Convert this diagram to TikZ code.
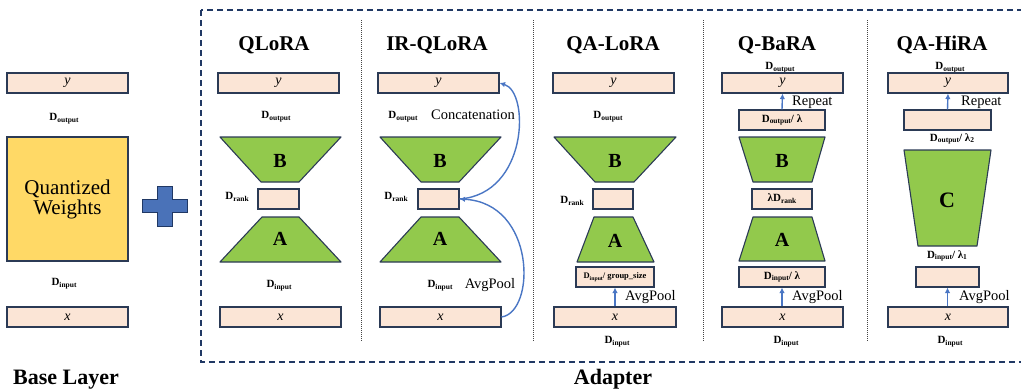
\documentclass[tikz,border=0pt]{standalone}
\usepackage{fontspec}
\setmainfont{Liberation Serif}
\usetikzlibrary{arrows.meta}

\definecolor{peach}{HTML}{FBE5D6}
\definecolor{boxline}{HTML}{2B3A55}
\definecolor{leaf}{HTML}{92C94C}
\definecolor{gold}{HTML}{FFD966}
\definecolor{plusblue}{HTML}{4A72B8}
\definecolor{arrowblue}{HTML}{4A76C4}
\definecolor{navy}{HTML}{203864}
\definecolor{sepgray}{HTML}{444444}

\newcommand\fs[1]{\fontsize{#1}{#1}\selectfont}
\newcommand\Dlab[1]{\textbf{D}\raisebox{-0.35ex}{\fontsize{0.68em}{0.68em}\selectfont\textbf{#1}}}

\tikzset{
  vec/.style={draw=boxline, fill=peach, line width=1.1pt, inner sep=0pt, minimum height=20pt, font=\fs{14}\itshape},
  mat/.style={draw=boxline, fill=leaf, line width=1.1pt, line join=round},
  dimlab/.style={inner sep=0pt, font=\fs{11}},
  ttl/.style={inner sep=0pt, font=\fs{21}\bfseries},
  opl/.style={inner sep=0pt, font=\fs{14.5}},
  letter/.style={inner sep=0pt, font=\fs{20}\bfseries},
  arr/.style={draw=arrowblue, line width=1.4pt, -{Latex[length=5.5pt,width=5.5pt]}},
  sep/.style={draw=sepgray, line width=0.9pt, dash pattern=on 1pt off 1pt},
}

\begin{document}
\begin{tikzpicture}[x=1pt, y=-1pt]
\useasboundingbox (0,0) rectangle (1021,391);

% ---------- base layer ----------
\node[vec, minimum width=121pt] (by) at (67.5,83) {y};
\node[dimlab] (bdo) at (64,119) {\Dlab{output}};
\node[draw=boxline, fill=gold, line width=1.1pt, minimum width=121pt, minimum height=124pt,
      align=center, font=\fs{21}] (bw) at (67.5,199) {Quantized\\[-1pt]Weights};
\node[dimlab] (bdi) at (64,284) {\Dlab{input}};
\node[vec, minimum width=121pt] (bx) at (67.5,317) {x};
\node[ttl, font=\fs{22}\bfseries] (blab) at (66,380) {Base Layer};

% plus sign
\draw[fill=plusblue, draw=navy, line width=1pt]
  (157,186) -- (172,186) -- (172,199) -- (187,199) -- (187,212) -- (172,212)
  -- (172,226) -- (157,226) -- (157,212) -- (142,212) -- (142,199) -- (157,199) -- cycle;

% ---------- adapter frame ----------
\draw[navy, line width=1.4pt, dash pattern=on 6pt off 4pt] (201,10) rectangle (1030,362);
\node[ttl, font=\fs{22}\bfseries] (alab) at (613,379) {Adapter};
\foreach \sx in {361,533,703,867} \draw[sep] (\sx,20) -- (\sx,342);

% ---------- QLoRA ----------
\node[ttl] (t1) at (274,45) {QLoRA};
\node[vec, minimum width=121pt] (y1) at (278.5,83) {y};
\node[dimlab] (do1) at (276,117) {\Dlab{output}};
\draw[mat] (220,137) -- (341,137) -- (299,182) -- (261,182) -- cycle;
\node[letter] (B1) at (280,161) {B};
\node[dimlab] (dr1) at (237,197) {\Dlab{rank}};
\node[vec, minimum width=41pt] (r1) at (278.5,199) {};
\draw[mat] (262,217) -- (299,217) -- (341,262) -- (220,262) -- cycle;
\node[letter] (A1) at (280,239) {A};
\node[dimlab] (di1) at (279,286) {\Dlab{input}};
\node[vec, minimum width=121pt] (x1) at (280.5,317) {x};

% ---------- IR-QLoRA ----------
\node[ttl] (t2) at (437,45) {IR-QLoRA};
\node[vec, minimum width=121pt] (y2) at (438.5,83) {y};
\node[dimlab] (do2) at (403,117) {\Dlab{output}};
\node[opl] (cat2) at (473,115) {Concatenation};
\draw[mat] (380,137) -- (501,137) -- (459,182) -- (421,182) -- cycle;
\node[letter] (B2) at (440,161) {B};
\node[dimlab] (dr2) at (396,197) {\Dlab{rank}};
\node[vec, minimum width=41pt] (r2) at (438.5,199) {};
\draw[mat] (421,217) -- (459,217) -- (501,262) -- (380,262) -- cycle;
\node[letter] (A2) at (440,239) {A};
\node[dimlab] (di2) at (440,286) {\Dlab{input}};
\node[opl] (ap2) at (490,285) {AvgPool};
\node[vec, minimum width=121pt] (x2) at (440.5,317) {x};
\draw[arr] (x2.east) .. controls (536,312) and (536,203) .. (r2.east);
\draw[arr] (r2.east) .. controls (528,194) and (530,92) .. (y2.east);

% ---------- QA-LoRA ----------
\node[ttl] (t3) at (613,45) {QA-LoRA};
\node[vec, minimum width=121pt] (y3) at (613.5,83) {y};
\node[dimlab] (do3) at (608,117) {\Dlab{output}};
\draw[mat] (554,137) -- (676,137) -- (634,182) -- (595,182) -- cycle;
\node[letter] (B3) at (615,161) {B};
\node[dimlab] (dr3) at (572,201) {\Dlab{rank}};
\node[vec, minimum width=40pt] (r3) at (613,199) {};
\draw[mat] (594,217) -- (633,217) -- (654,262) -- (577,262) -- cycle;
\node[letter] (A3) at (615,241) {A};
\node[vec, minimum width=78pt, font=\fs{8.5}] (g3) at (615,277) {\Dlab{input}\textbf{/ group\_size}};
\node[vec, minimum width=122pt] (x3) at (615,317) {x};
\draw[arr] (x3.north) -- (g3.south);
\node[opl, anchor=west] (ap3) at (625,297) {AvgPool};
\node[dimlab] (di3) at (617,342) {\Dlab{input}};

% ---------- Q-BaRA ----------
\node[ttl] (t4) at (777,45) {Q-BaRA};
\node[dimlab] (do4) at (780,68) {\Dlab{output}};
\node[vec, minimum width=121pt] (y4) at (782.5,83) {y};
\node[vec, minimum width=86pt, font=\fs{11}] (q4) at (782,120) {\Dlab{output}\textbf{/ λ}};
\draw[arr] (q4.north) -- (y4.south);
\node[opl, anchor=west] (rp4) at (792,102) {Repeat};
\draw[mat] (739,137) -- (825,137) -- (812,182) -- (753,182) -- cycle;
\node[letter] (B4) at (782,161) {B};
\node[vec, minimum width=60pt, font=\fs{11}] (r4) at (782,199) {\textbf{λ}\Dlab{rank}};
\draw[mat] (753,217) -- (812,217) -- (825,261) -- (739,261) -- cycle;
\node[letter] (A4) at (782,240) {A};
\node[vec, minimum width=86pt, font=\fs{11}] (p4) at (782,277) {\Dlab{input}\textbf{/ λ}};
\node[vec, minimum width=121pt] (x4) at (782.5,317) {x};
\draw[arr] (x4.north -| p4.south) -- (p4.south);
\node[opl, anchor=west] (ap4) at (792,297) {AvgPool};
\node[dimlab] (di4) at (786,342) {\Dlab{input}};

% ---------- QA-HiRA ----------
\node[ttl] (t5) at (942,45) {QA-HiRA};
\node[dimlab] (do5) at (950,68) {\Dlab{output}};
\node[vec, minimum width=120pt] (y5) at (948,83) {y};
\node[vec, minimum width=87pt] (q5) at (947.5,120) {};
\draw[arr] (q5.north) -- (y5.south);
\node[opl, anchor=west] (rp5) at (961,102) {Repeat};
\node[dimlab] (qo5) at (952,139) {\Dlab{output}\textbf{/ λ\raisebox{-0.35ex}{\fontsize{0.68em}{0.68em}\selectfont 2}}};
\draw[mat] (904,150) -- (991,150) -- (977,246) -- (918,246) -- cycle;
\node[letter, font=\fs{22}\bfseries] (C5) at (947,200) {C};
\node[dimlab] (pi5) at (947,256) {\Dlab{input}\textbf{/ λ\raisebox{-0.35ex}{\fontsize{0.68em}{0.68em}\selectfont 1}}};
\node[vec, minimum width=63pt] (p5) at (947.5,277) {};
\node[vec, minimum width=120pt] (x5) at (948,317) {x};
\draw[arr] (x5.north -| p5.south) -- (p5.south);
\node[opl, anchor=west] (ap5) at (959,297) {AvgPool};
\node[dimlab] (di5) at (950,342) {\Dlab{input}};

\end{tikzpicture}
\end{document}
